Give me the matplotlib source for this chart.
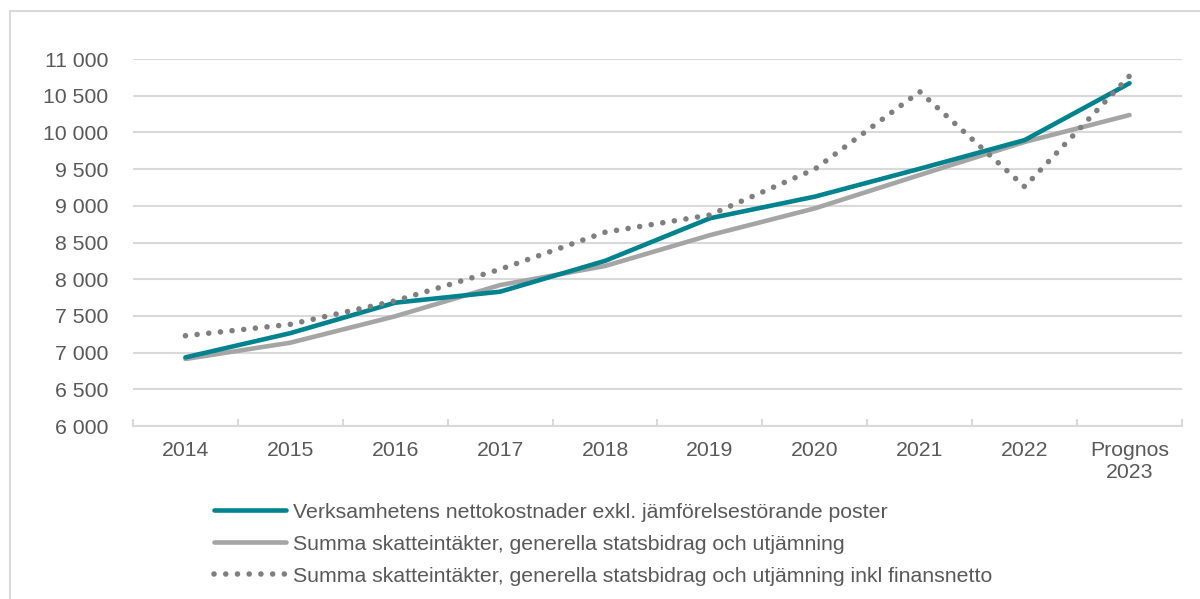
import matplotlib
matplotlib.use("Agg")
import matplotlib.pyplot as plt
import numpy as np
from matplotlib.patches import Rectangle

# Data
years = ["2014", "2015", "2016", "2017", "2018", "2019", "2020", "2021", "2022", "Prognos\n2023"]
nettokostnader = [6935, 7265, 7680, 7830, 8250, 8830, 9125, 9505, 9895, 10670]
skatteintakter = [6913, 7135, 7495, 7920, 8180, 8600, 8965, 9420, 9870, 10237]
inkl_finansnetto = [7230, 7385, 7705, 8135, 8640, 8875, 9500, 10555, 9260, 10770]

labels = ["Verksamhetens nettokostnader exkl. jämförelsestörande poster",
          "Summa skatteintäkter, generella statsbidrag och utjämning",
          "Summa skatteintäkter, generella statsbidrag och utjämning inkl finansnetto"]

text_color = "#595959"
grid_color = "#D9D9D9"
plt.rcParams["font.family"] = ["Liberation Sans", "DejaVu Sans"]

fig = plt.figure(figsize=(12, 5.99), dpi=100)
ax = fig.add_axes([0.1108, 0.2888, 0.8742, 0.6127])

# Outer chart frame
fig.patches.append(Rectangle((10 / 1200, -0.1), 1.2, 1 - 11 / 599 + 0.1,
                             transform=fig.transFigure, fill=False,
                             edgecolor=grid_color, linewidth=1.5))

x = np.arange(len(years))
ax.plot(x, nettokostnader, color="#00838F", linewidth=3.3, solid_capstyle="round",
        label=labels[0], zorder=3)
ax.plot(x, skatteintakter, color="#A5A5A5", linewidth=3.3, solid_capstyle="round",
        label=labels[1], zorder=2)
ax.plot(x, inkl_finansnetto, color="#7F7F7F", linewidth=4.0, linestyle=(0, (0.01, 2.1)),
        dash_capstyle="round", label=labels[2], zorder=4)

ax.set_xlim(-0.5, len(years) - 0.5)
ax.set_ylim(6000, 11000)
ax.set_yticks(np.arange(6000, 11001, 500))
ax.set_yticklabels([f"{v:,}".replace(",", " ") for v in range(6000, 11001, 500)])
ax.set_xticks(x)
ax.set_xticklabels(years)
ax.set_xticks(np.arange(-0.5, len(years)), minor=True)

ax.grid(axis="y", color=grid_color, linewidth=1.5)
ax.set_axisbelow(True)
for s in ["top", "right", "left"]:
    ax.spines[s].set_visible(False)
ax.spines["bottom"].set_color(grid_color)
ax.spines["bottom"].set_linewidth(1.5)

ax.tick_params(axis="both", labelsize=15.3, labelcolor=text_color)
ax.tick_params(axis="y", length=0, pad=18)
ax.tick_params(axis="x", which="major", length=0, pad=11)
ax.tick_params(axis="x", which="minor", direction="in", length=5, width=1.5, color=grid_color)

leg = fig.legend(loc="upper left", bbox_to_anchor=(205 / 1200, 1 - 494 / 599),
                 frameon=False, fontsize=15.3, handlelength=3.4, handletextpad=0.35,
                 labelspacing=0.62, borderaxespad=0)
for t in leg.get_texts():
    t.set_color(text_color)

fig.savefig("out.png", dpi=100)
